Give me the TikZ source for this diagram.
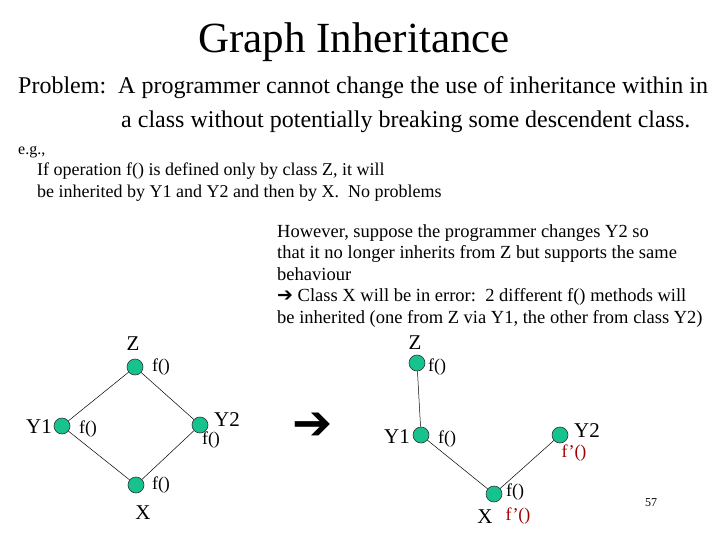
\documentclass[tikz,border=0pt]{standalone}
\usepackage{fontspec}
\setmainfont{Liberation Serif}
\newfontfamily\dingfont{DejaVu Sans}
\usetikzlibrary{positioning}
\definecolor{clsgreen}{RGB}{22,194,142}
\definecolor{ovred}{RGB}{160,0,0}
\newcommand{\bigarrow}{{\dingfont\fontsize{19}{19}\selectfont ➔}}

\begin{document}
\begin{tikzpicture}[x=1pt, y=-1pt,
  cls/.style={circle, draw=black!80, fill=clsgreen, minimum size=16pt, inner sep=0pt, line width=0.6pt},
  cname/.style={font=\fontsize{21}{21}\selectfont, inner sep=0pt},
  op/.style={font=\fontsize{18}{18}\selectfont, inner sep=0pt},
  redop/.style={op, text=ovred},
  txt/.style={anchor=west, align=left, inner sep=0pt},
  edge/.style={line width=0.5pt}]
\useasboundingbox (0,0) rectangle (720,540);
% heading
\node[inner sep=0pt, font=\fontsize{43}{43}\selectfont] (title) at (354,42) {Graph Inheritance};
\node[txt, font=\fontsize{24}{34}\selectfont] (problem) at (18,105)
  {Problem:\ \ A programmer cannot change the use of inheritance within in\\
  \hspace{103pt}a class without potentially breaking some descendent class.};
\node[txt, font=\fontsize{16}{16}\selectfont] (eg) at (18,152) {e.g.,};
\node[txt, font=\fontsize{18}{21.5}\selectfont] (noproblem) at (37,182)
  {If operation f() is defined only by class Z, it will\\
   be inherited by Y1 and Y2 and then by X.\ \ No problems};
\node[txt, font=\fontsize{18.5}{21.5}\selectfont] (however) at (277,276)
  {However, suppose the programmer changes Y2 so\\
   that it no longer inherits from Z but supports the same\\
   behaviour\\
   \bigarrow\ Class X will be in error:\ \ 2 different f() methods will\\
   be inherited (one from Z via Y1, the other from class Y2)};

% left graph: diamond
\node[cls] (zL) at (135,367) {};
\node[cls] (yaL) at (62,426) {};
\node[cls] (ybL) at (200,425) {};
\node[cls] (xL) at (136,485) {};
\draw[edge] (zL) -- (yaL);
\draw[edge] (zL) -- (ybL);
\draw[edge] (yaL) -- (xL);
\draw[edge] (ybL) -- (xL);
\node[cname] (zLname) at (133,344) {Z};
\node[op] (zLop) at (161,367) {f()};
\node[cname] (yaLname) at (39,427) {Y1};
\node[op] (yaLop) at (88,429) {f()};
\node[cname] (ybLname) at (227,420) {Y2};
\node[op] (ybLop) at (211,440) {f()};
\node[op] (xLop) at (161,485) {f()};
\node[cname] (xLname) at (143,513) {X};

% arrow between
\node[inner sep=0pt, font=\dingfont\fontsize{48}{48}\selectfont] (change) at (313,426) {➔};

% right graph: Y2 no longer inherits from Z
\node[cls] (zR) at (417,363) {};
\node[cls] (yaR) at (421,435) {};
\node[cls] (ybR) at (560,435) {};
\node[cls] (xR) at (494,494) {};
\draw[edge] (zR) -- (yaR);
\draw[edge] (yaR) -- (xR);
\draw[edge] (ybR) -- (xR);
\node[cname] (zRname) at (415,343) {Z};
\node[op] (zRop) at (437,367) {f()};
\node[cname] (yaRname) at (397,437) {Y1};
\node[op] (yaRop) at (447,439) {f()};
\node[cname] (ybRname) at (587,431) {Y2};
\node[redop] (ybRop) at (574,453) {f'()};
\node[op] (xRop) at (515,492) {f()};
\node[cname] (xRname) at (485,517) {X};
\node[redop] (xRop2) at (518,516) {f'()};

\node[inner sep=0pt, font=\fontsize{12}{12}\selectfont] (pagenum) at (651,503) {57};
\end{tikzpicture}
\end{document}
